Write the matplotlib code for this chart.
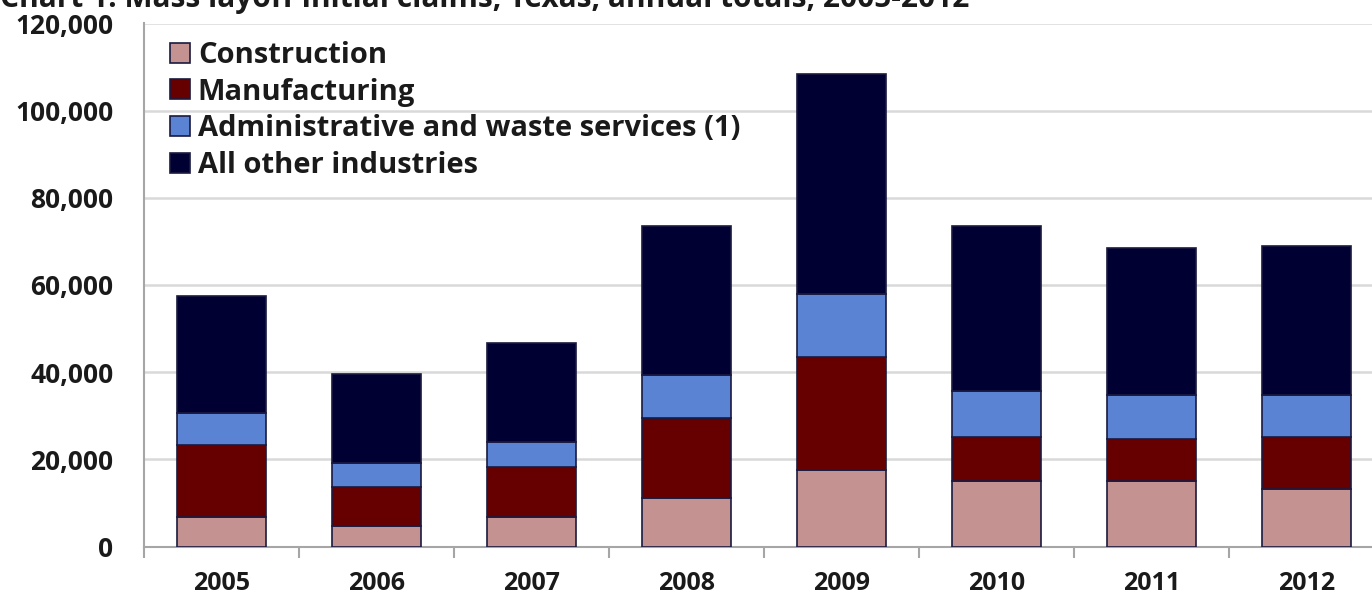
import matplotlib
matplotlib.use("Agg")
import matplotlib.pyplot as plt
import numpy as np
from matplotlib.ticker import FuncFormatter

years = ["2005", "2006", "2007", "2008", "2009", "2010", "2011", "2012"]
construction = [6800, 4800, 6800, 11100, 17500, 15000, 15000, 13300]
manufacturing = [16500, 8800, 11400, 18400, 26000, 10200, 9700, 11900]
admin_waste = [7300, 5500, 5700, 9800, 14400, 10500, 10000, 9500]
all_other = [26900, 20500, 22800, 34200, 50600, 37900, 33800, 34300]

series_names = ["Construction", "Manufacturing",
                "Administrative and waste services (1)", "All other industries"]
colors = ["#c49391", "#660000", "#5b83d4", "#000033"]
title = "Chart 1. Mass layoff initial claims, Texas, annual totals, 2005-2012"

FONT = ['Open Sans', 'DejaVu Sans']
plt.rcParams['font.family'] = FONT

fig = plt.figure(figsize=(13.72, 5.97), dpi=100)
W, H = 1372, 597
left, right = 144 / W, 1384 / W
bottom, top = 1 - 546.5 / H, 1 - 23.5 / H
ax = fig.add_axes([left, bottom, right - left, top - bottom])

x = np.arange(len(years))
data = [construction, manufacturing, admin_waste, all_other]
base = np.zeros(len(years))
handles = []
for vals, c, name in zip(data, colors, series_names):
    b = ax.bar(x, vals, width=0.57, bottom=base, color=c, edgecolor="#1a1a40",
               linewidth=1.2, label=name, zorder=3)
    handles.append(b)
    base += np.array(vals)

ax.set_xlim(-0.5, len(years) - 0.5)
ax.set_ylim(0, 120000)
ax.set_yticks(np.arange(0, 120001, 20000))
ax.yaxis.set_major_formatter(FuncFormatter(lambda v, p: f"{int(v):,}"))
ax.grid(axis="y", color="#d9d9d9", linewidth=1.8, zorder=0)
ax.set_axisbelow(True)

ax.set_xticks(x)
ax.set_xticklabels(years)
ax.set_xticks(np.arange(-0.5, len(years) + 0.5, 1), minor=True)
ax.tick_params(axis="x", which="major", length=0, pad=17.5)
ax.tick_params(axis="x", which="minor", length=8, color="#a6a6a6", width=1.5, direction="out")
ax.tick_params(axis="y", length=0, pad=22)
for lab in ax.get_xticklabels():
    lab.set_fontsize(18)
    lab.set_fontweight("bold")
    lab.set_color("#1a1a1a")
for lab in ax.get_yticklabels():
    lab.set_fontsize(19)
    lab.set_fontweight("bold")
    lab.set_color("#1a1a1a")

for s in ["top", "right"]:
    ax.spines[s].set_visible(False)
ax.spines["left"].set_color("#a6a6a6")
ax.spines["left"].set_linewidth(1.5)
ax.spines["bottom"].set_color("#a6a6a6")
ax.spines["bottom"].set_linewidth(1.5)

leg = ax.legend(handles=handles, labels=series_names, loc="upper left",
                bbox_to_anchor=(0.0069, 1.0), frameon=False,
                prop={"family": FONT, "weight": "bold", "size": 21},
                handlelength=0.68, handleheight=0.68, handletextpad=0.27,
                labelspacing=0.26, borderaxespad=0.2)
for t in leg.get_texts():
    t.set_color("#1a1a1a")

fig.text(0.0, 1 - 7 / H, title, fontsize=21.5, fontweight="bold", color="#1a1a1a",
         ha="left", va="baseline")

fig.savefig("out.png", dpi=100)
